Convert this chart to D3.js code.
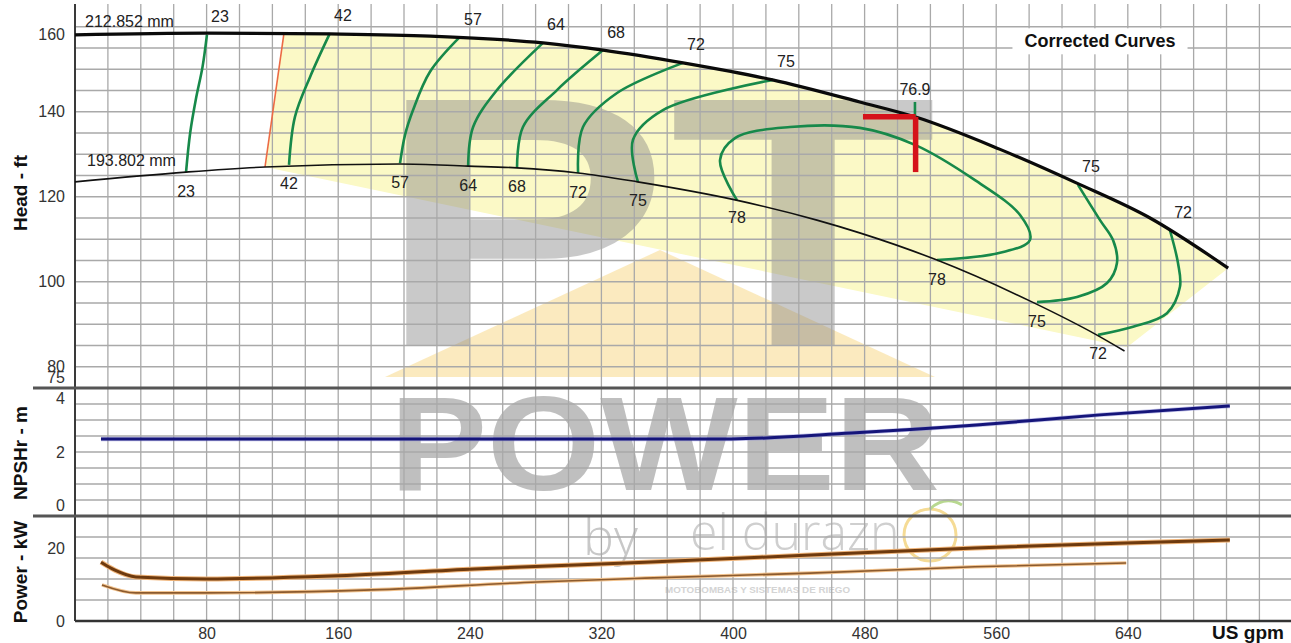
<!DOCTYPE html>
<html>
<head>
<meta charset="utf-8">
<script src="https://cdn.jsdelivr.net/npm/d3@7"></script>
<style>
  html, body { margin: 0; padding: 0; background: #fff; }
  svg { display: block; font-family: "Liberation Sans", Arial, sans-serif; }
</style>
</head>
<body>
<div id="chart"></div>
<script>
const width = 1291, height = 643

// axis ticks
const flowTicks = [80, 160, 240, 320, 400, 480, 560, 640]
const headTicks = [75, 80, 100, 120, 140, 160]
const npshTicks = [0, 2, 4]
const powerTicks = [0, 20]

// impeller curves [US gpm, ft]
const impellerNames = ['212.852 mm', '193.802 mm']
const headMax = [[0,158.1],[80,158.5],[155,158.3],[216,157.8],[284.5,156.2],[321,154.5],[369.6,151.5],
  [424,147.5],[477,142.3],[510.6,138.8],[562,131.2],[609,123.2],[653.5,115],[701,103.2]]
const headMin = [[0,123.5],[67.5,125.8],[115.5,127],[197.6,127.7],[239,127.2],[268.7,126.8],[305.8,125.6],
  [342,123.5],[402,119.2],[451,114.5],[477,111.5],[524,105.1],[582,95.2],[621,87.5],[638,83.7]]

// min flow line and shaded region corners
const minFlowLine = [[115.5,127],[127,158.4]]
const shadeCorners = [[115.5,127],[127,158.4],[701,103.2],[639.5,84.6]]

// iso-efficiency curves (%)
const eff23 = [[80.2,158.1],[77.5,150.5],[73.5,143],[70,135],[67.5,125.8]]
const eff42 = [[155,158.5],[142.9,148.2],[133.7,138.8],[130.1,127.5]]
const eff57 = [[234,157.6],[215.8,149.4],[205.5,140.4],[200.6,134.5],[197.6,127.9]]
const eff64 = [[284.5,156.2],[256.5,145.1],[242,136.4],[239,127.2]]
const eff68 = [[321,154.5],[293,145.1],[272.3,136.4],[268.7,126.8]]
const eff72 = [[369.6,151.5],[329.5,144.4],[308.8,136.4],[305.8,125.6]]
const eff75 = [[424.3,147.5],[357.4,140.4],[339.2,133.4],[342.2,123.5]]
const eff78 = [[402.4,119.2],[392.1,128.6],[401.2,133.8],[434.7,136.4],[477.2,136.2],[510.6,132.2],
  [547.1,123.9],[574.5,115.7],[580.5,109.8],[562.3,106.8],[524,105.1]]
const eff75r = [[609.7,122.8],[623.1,114.5],[631,109.8],[633.4,104.4],[627.4,99.7],[609.1,96.4],[584.8,95.2]]
const eff72r = [[665.7,112],[670.5,104.4],[671.7,98.8],[663.8,92.6],[643.2,89.4],[621.9,87.5]]
const effCurves = [eff23, eff42, eff57, eff64, eff68, eff72, eff75, eff78, eff75r, eff72r]
const effLabels = ['23', '42', '57', '64', '68', '72', '75', '78', '75', '72']

// best efficiency point and duty marker
const bepLabel = '76.9'
const bepPoint = [510.6, 138.8]
const bepTick = [[510.6,142.3],[510.6,138.8]]
const dutyH = [[479,138.8],[511,138.8]]
const dutyV = [[511,138.8],[511,125.8]]

// NPSHr [US gpm, m]
const npshr = [[15.8,2.41],[200,2.41],[399,2.41],[472,2.59],[548,2.84],[623,3.16],[702,3.44]]

// power [US gpm, kW]
const powerMax = [[15.8,14.0],[24.3,12.1],[37,10.5],[80,10.0],[155.6,10.7],[243,12.4],[346.5,14.0],
  [446.8,15.7],[547,17.4],[639,18.6],[702,19.3]]
const powerMin = [[16.4,8.6],[37,6.7],[80,6.7],[180.5,7.4],[281,9.3],[346.5,10.2],[446.8,11.4],
  [547,12.9],[639,13.8]]

let x = d3.scaleLinear().domain([0, 739.2]).range([75, width])
let yHead = d3.scaleLinear().domain([75, 165.35]).range([388, 4])
let yNpsh = d3.scaleLinear().domain([0, 4]).range([516, 388])
let yPower = d3.scaleLinear().domain([0, 25]).range([621, 516])

let svg = d3.select('#chart').append('svg').attr('width', width).attr('height', height)

let gShade = svg.append('g')
let gMark = svg.append('g')
let gGrid = svg.append('g')
let gFrame = svg.append('g')
let gCurves = svg.append('g')
let gText = svg.append('g')
let gTitle = svg.append('g')

function lineOf(ys, curve) {
  return d3.line().x(d => x(d[0])).y(d => ys(d[1])).curve(curve || d3.curveLinear)
}

// yellow operating region
let shadePts = [shadeCorners[0], shadeCorners[1]]
  .concat(headMax.filter(d => d[0] > shadeCorners[1][0] && d[0] <= shadeCorners[2][0]))
  .concat([shadeCorners[3]])
gShade.append('path')
  .attr('d', lineOf(yHead)(shadePts) + 'Z')
  .attr('fill', '#fbf9c6')

// watermark (decoration)
gMark.append('path')
  .attr('d', 'M660,250 L935,377 L385,377 Z')
  .attr('fill', '#f7d98a').attr('opacity', 0.55)
gMark.append('text').text('PT')
  .attr('x', 377).attr('y', 345)
  .attr('font-size', 356).attr('font-weight', 'bold')
  .attr('textLength', 560).attr('lengthAdjust', 'spacingAndGlyphs')
  .attr('fill', '#808080').attr('opacity', 0.42)
gMark.append('text').text('POWER')
  .attr('x', 390).attr('y', 490)
  .attr('font-size', 133).attr('font-weight', 'bold')
  .attr('textLength', 550).attr('lengthAdjust', 'spacingAndGlyphs')
  .attr('fill', '#808080').attr('opacity', 0.5)
gMark.append('text').text('by')
  .attr('x', 583).attr('y', 555)
  .attr('font-size', 52).attr('font-family', 'Open Sans').attr('font-weight', 300)
  .attr('fill', '#c8c8c8')
gMark.append('text').text('el durazn')
  .attr('x', 690).attr('y', 550)
  .attr('font-size', 50).attr('font-family', 'Open Sans').attr('font-weight', 300)
  .attr('fill', '#cfcfcf')
gMark.append('circle').attr('cx', 930).attr('cy', 535).attr('r', 26)
  .attr('fill', 'none').attr('stroke', '#f3d27a').attr('stroke-width', 3).attr('opacity', 0.8)
gMark.append('path').attr('d', 'M930,509 Q945,495 962,505')
  .attr('fill', 'none').attr('stroke', '#b8d890').attr('stroke-width', 3)
gMark.append('text').text('MOTOBOMBAS Y SISTEMAS DE RIEGO')
  .attr('x', 665).attr('y', 593)
  .attr('font-size', 9).attr('font-weight', 'bold')
  .attr('textLength', 185).attr('lengthAdjust', 'spacingAndGlyphs')
  .attr('fill', '#d4d4d4')

// grid
let gridColor = '#a9a9a9'
gGrid.selectAll('line.v').data(d3.range(20, 740, 20)).enter().append('line')
  .attr('x1', d => x(d)).attr('x2', d => x(d))
  .attr('y1', yHead(165.35)).attr('y2', yPower(0))
  .attr('stroke', gridColor).attr('stroke-width', 1.3)
gGrid.selectAll('line.h1').data(d3.range(80, 161, 5)).enter().append('line')
  .attr('x1', x(0)).attr('x2', width)
  .attr('y1', d => yHead(d)).attr('y2', d => yHead(d))
  .attr('stroke', gridColor).attr('stroke-width', 1.3)
gGrid.selectAll('line.h2').data(d3.range(0.5, 4, 0.5)).enter().append('line')
  .attr('x1', x(0)).attr('x2', width)
  .attr('y1', d => yNpsh(d)).attr('y2', d => yNpsh(d))
  .attr('stroke', gridColor).attr('stroke-width', 1.3)
gGrid.selectAll('line.h3').data(d3.range(5, 25, 5)).enter().append('line')
  .attr('x1', x(0)).attr('x2', width)
  .attr('y1', d => yPower(d)).attr('y2', d => yPower(d))
  .attr('stroke', gridColor).attr('stroke-width', 1.3)

// frame
gFrame.append('line').attr('x1', x(0)).attr('x2', x(0))
  .attr('y1', yHead(165.35)).attr('y2', yPower(0))
  .attr('stroke', '#3a3a3a').attr('stroke-width', 2)
;[yNpsh(4), yNpsh(0)].forEach(function(yy) {
  gFrame.append('line').attr('x1', 33).attr('x2', width).attr('y1', yy).attr('y2', yy)
    .attr('stroke', '#555').attr('stroke-width', 3)
})
gFrame.append('line').attr('x1', x(0)).attr('x2', width)
  .attr('y1', yPower(0)).attr('y2', yPower(0))
  .attr('stroke', '#333').attr('stroke-width', 2.5)

// axes
function leftAxis(scale, ticks, nudge) {
  let g = gText.append('g').attr('transform', 'translate(' + x(0) + ',0)')
    .call(d3.axisLeft(scale).tickValues(ticks).tickSize(0).tickPadding(10).tickFormat(d3.format('d')))
  g.select('.domain').remove()
  g.selectAll('text')
    .attr('font-size', 16).attr('fill', '#333')
    .attr('font-family', '"Liberation Sans", Arial, sans-serif')
    .attr('y', d => nudge[d] || 0)
}
leftAxis(yHead, headTicks, {160: 8, 75: -11})
leftAxis(yNpsh, npshTicks, {4: 10, 0: -11})
leftAxis(yPower, powerTicks, {20: 11})

let xAxis = gText.append('g').attr('transform', 'translate(0,' + yPower(0) + ')')
  .call(d3.axisBottom(x).tickValues(flowTicks).tickSize(0).tickPadding(7))
xAxis.select('.domain').remove()
xAxis.selectAll('text').attr('font-size', 16).attr('fill', '#333')
  .attr('font-family', '"Liberation Sans", Arial, sans-serif')

gText.append('text').text('US gpm')
  .attr('x', 1248).attr('y', 632).attr('dy', '0.35em')
  .attr('text-anchor', 'middle').attr('font-size', 19).attr('font-weight', 'bold').attr('fill', '#111')

function axisTitle(txt, cy) {
  gText.append('text').text(txt)
    .attr('transform', 'translate(20,' + cy + ') rotate(-90)')
    .attr('text-anchor', 'middle').attr('dy', '0.35em')
    .attr('font-size', 19).attr('font-weight', 'bold').attr('fill', '#111')
}
axisTitle('Head - ft', 193)
axisTitle('NPSHr - m', 453)
axisTitle('Power - kW', 572)

// min flow line
gCurves.append('path').attr('d', lineOf(yHead)(minFlowLine))
  .attr('fill', 'none').attr('stroke', '#ec6a44').attr('stroke-width', 1.6)

// iso-efficiency curves
effCurves.forEach(function(pts, i) {
  gCurves.append('path').attr('d', lineOf(yHead, d3.curveCatmullRom.alpha(0.5))(pts))
    .attr('fill', 'none').attr('stroke', '#17894a').attr('stroke-width', 2.6)
  let a = pts[0], b = pts[pts.length - 1]
  let twoBottom = effLabels[i] === '78'
  gText.append('text').text(effLabels[i])
    .attr('x', x(a[0]) + (twoBottom ? 0 : 13)).attr('y', yHead(a[1]) + (twoBottom ? 17 : -18))
    .attr('dy', '0.35em').attr('text-anchor', 'middle')
    .attr('font-size', 16).attr('fill', '#222')
  gText.append('text').text(effLabels[i])
    .attr('x', x(b[0])).attr('y', yHead(b[1]) + 19)
    .attr('dy', '0.35em').attr('text-anchor', 'middle')
    .attr('font-size', 16).attr('fill', '#222')
})

// impeller curves
gCurves.append('path').attr('d', lineOf(yHead, d3.curveMonotoneX)(headMin))
  .attr('fill', 'none').attr('stroke', '#111').attr('stroke-width', 1.6)
gCurves.append('path').attr('d', lineOf(yHead, d3.curveMonotoneX)(headMax))
  .attr('fill', 'none').attr('stroke', '#0a0a0a').attr('stroke-width', 3.2)
gText.append('text').text(impellerNames[0])
  .attr('x', x(headMax[0][0]) + 10).attr('y', yHead(headMax[0][1]) - 13).attr('dy', '0.35em')
  .attr('font-size', 16).attr('fill', '#222')
gText.append('text').text(impellerNames[1])
  .attr('x', x(headMin[0][0]) + 12).attr('y', yHead(headMin[0][1]) - 21).attr('dy', '0.35em')
  .attr('font-size', 16).attr('fill', '#222')

// BEP
gCurves.append('path').attr('d', lineOf(yHead)(bepTick))
  .attr('stroke', '#17894a').attr('stroke-width', 2.6)
gCurves.append('path').attr('d', lineOf(yHead)(dutyH))
  .attr('stroke', '#d5121a').attr('stroke-width', 5.5)
gCurves.append('path').attr('d', lineOf(yHead)(dutyV))
  .attr('stroke', '#d5121a').attr('stroke-width', 5.5)
gText.append('text').text(bepLabel)
  .attr('x', x(bepPoint[0])).attr('y', yHead(bepPoint[1]) - 27).attr('dy', '0.35em')
  .attr('text-anchor', 'middle').attr('font-size', 16).attr('fill', '#222')

// NPSHr
gCurves.append('path').attr('d', lineOf(yNpsh, d3.curveMonotoneX)(npshr))
  .attr('fill', 'none').attr('stroke', '#8a8ad8').attr('stroke-width', 4.5).attr('opacity', 0.5)
gCurves.append('path').attr('d', lineOf(yNpsh, d3.curveMonotoneX)(npshr))
  .attr('fill', 'none').attr('stroke', '#15157a').attr('stroke-width', 3)

// power
gCurves.append('path').attr('d', lineOf(yPower, d3.curveMonotoneX)(powerMin))
  .attr('fill', 'none').attr('stroke', '#f2c38e').attr('stroke-width', 3.6)
gCurves.append('path').attr('d', lineOf(yPower, d3.curveMonotoneX)(powerMin))
  .attr('fill', 'none').attr('stroke', '#8b5a2e').attr('stroke-width', 1.6)
gCurves.append('path').attr('d', lineOf(yPower, d3.curveMonotoneX)(powerMax))
  .attr('fill', 'none').attr('stroke', '#f0b57a').attr('stroke-width', 5)
gCurves.append('path').attr('d', lineOf(yPower, d3.curveMonotoneX)(powerMax))
  .attr('fill', 'none').attr('stroke', '#6e3a0e').attr('stroke-width', 3)

// title with white box behind
let titleBox = gTitle.append('rect').attr('fill', '#fff')
let title = gTitle.append('text').text('Corrected Curves')
  .attr('x', 1100).attr('y', 41).attr('dy', '0.35em')
  .attr('text-anchor', 'middle').attr('font-size', 18).attr('font-weight', 'bold').attr('fill', '#111')
let bb = title.node().getBBox()
titleBox.attr('x', bb.x - 12).attr('y', bb.y - 3).attr('width', bb.width + 24).attr('height', bb.height + 6)
</script>
</body>
</html>
